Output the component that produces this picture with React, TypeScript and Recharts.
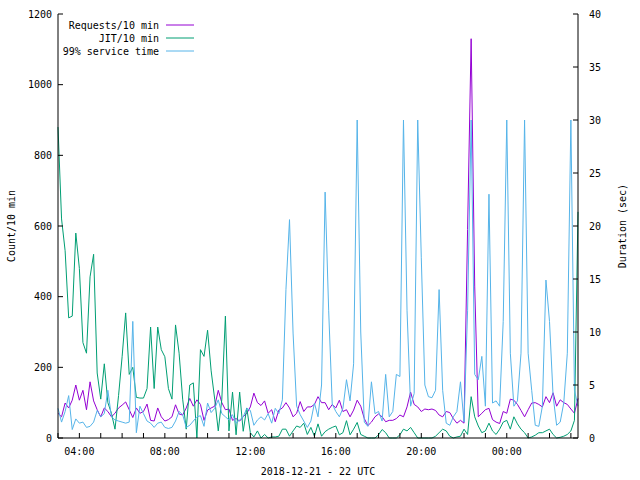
import React from "react";
import { LineChart, Line, XAxis, YAxis } from "recharts";

// samples every 10 min, starting 2018-12-21 03:00 UTC (hours since midnight)
const START_HOUR = 3;
const STEP_HOURS = 1 / 6;

const REQUESTS = [
  70, 60, 99, 85, 107, 150, 107, 135, 80, 159,
  105, 80, 60, 85, 75, 60, 70, 85, 93, 102,
  80, 58, 85, 70, 75, 96, 50, 48, 85, 60,
  48, 52, 60, 94, 68, 65, 85, 112, 90, 108,
  95, 50, 79, 85, 90, 135, 100, 80, 82, 50,
  55, 48, 60, 70, 88, 127, 100, 92, 105, 70,
  80, 46, 79, 85, 100, 85, 60, 70, 103, 75,
  88, 88, 95, 117, 100, 100, 80, 95, 85, 107,
  75, 80, 60, 79, 107, 90, 55, 35, 45, 60,
  68, 60, 46, 50, 50, 55, 65, 60, 88, 130,
  95, 88, 75, 82, 80, 82, 78, 65, 60, 75,
  72, 55, 42, 50, 42, 590, 1130, 430, 60, 70,
  80, 84, 52, 45, 41, 75, 70, 110, 107, 95,
  78, 60, 80, 99, 100, 95, 88, 117, 100, 128,
  90, 108, 100, 95, 82, 70, 112,
];

const JIT = [
  880, 620, 530, 340, 345, 580, 480, 270, 240, 456,
  520, 184, 110, 210, 100, 70, 25, 120, 230, 354,
  180, 200, 115, 113, 113, 140, 314, 140, 314, 250,
  230, 140, 110, 320, 240, 110, 25, 150, 156, 0,
  250, 231, 305, 190, 110, 20, 110, 345, 20, 130,
  9, 130, 19, 85, 15, 3, 20, 0, 10, 0,
  3, 3, 5, 25, 25, 5, 20, 34, 30, 42,
  10, 30, 5, 40, 5, 18, 25, 30, 34, 9,
  15, 49, 9, 25, 44, 10, 5, 0, 0, 0,
  9, 24, 15, 0, 0, 0, 9, 25, 20, 30,
  15, 0, 0, 0, 0, 0, 5, 15, 25, 20,
  5, 0, 3, 5, 25, 10, 117, 60, 34, 15,
  20, 42, 20, 10, 25, 45, 50, 25, 60, 40,
  25, 15, 0, 3, 8, 15, 15, 20, 25, 10,
  0, 2, 5, 10, 20, 50, 640,
];

// seconds, right axis
const SERVICE_99 = [
  2.8, 1.5, 2.5, 4.0, 0.8, 1.8, 1.4, 1.5, 1.0, 1.1,
  1.5, 2.6, 2.0, 2.3, 4.5, 2.0, 1.7, 1.6, 1.5, 1.4,
  1.5, 11, 0.5, 3.0, 2.3, 1.6, 1.4, 1.0, 1.4, 1.5,
  1.0, 0.9, 1.0, 1.6, 2.5, 2.2, 1.0, 1.2, 1.6, 2.0,
  2.1, 1.1, 3.3, 2.4, 2.8, 3.6, 2.3, 2.0, 1.7, 2.2,
  1.4, 1.7, 2.0, 2.8, 2.6, 1.2, 1.7, 2.0, 1.7, 2.3,
  1.4, 2.8, 2.3, 3.6, 14, 20.6, 9.9, 3.0, 2.2, 1.6,
  1.0, 1.6, 3.3, 2.0, 5.0, 23.2, 12, 3.2, 2.5, 2.0,
  2.8, 5.5, 3.5, 7, 30, 10, 1.5, 1.1, 5.3, 2.3,
  2.5, 1.6, 6, 2.0, 2.5, 6, 5.8, 30, 12, 3,
  4.2, 30, 17, 5, 3.9, 3.8, 4.5, 14, 4.5, 1.4,
  1.2, 2.0, 2.5, 5.3, 1.5, 12, 30, 6, 5.5, 7.7,
  3, 23, 3.3, 3.5, 3.0, 11, 30, 8, 3.0, 3.5,
  8, 30, 8, 4.5, 1.2, 1.1, 3.0, 14.9, 11, 4,
  1.2, 1.5, 3.3, 8, 30, 4.5, 3,
];

const HOUR_TICKS = [
  3, 4, 5, 6, 7, 8, 9, 10, 11, 12, 13, 14, 15,
  16, 17, 18, 19, 20, 21, 22, 23, 24, 25, 26, 27,
];
const COUNT_TICKS = [0, 200, 400, 600, 800, 1000, 1200];
const SECONDS_TICKS = [0, 5, 10, 15, 20, 25, 30, 35, 40];

const SERIES = [
  { key: "requests", name: "Requests/10 min", color: "#9400d3", axis: "left" },
  { key: "jit", name: "JIT/10 min", color: "#009e73", axis: "left" },
  { key: "service", name: "99% service time", color: "#56b4e9", axis: "right" },
];

const FONT = "'DejaVu Sans Mono', 'Liberation Mono', monospace";
const TICK_LEN = 5;

const data = REQUESTS.map((r, i) => ({
  t: START_HOUR + i * STEP_HOURS,
  requests: r,
  jit: JIT[i],
  service: SERVICE_99[i],
}));

const fmtHour = (h: number) => `${String(Math.round(h) % 24).padStart(2, "0")}:00`;

const BottomTick = (props: any) => {
  const { x, y, payload } = props;
  const showLabel = payload.value % 4 === 0;
  return (
    <g>
      <line x1={x} y1={y} x2={x} y2={y - TICK_LEN} stroke="#000" />
      {showLabel && (
        <text x={x} y={y + 17} textAnchor="middle" fontSize={10} fontFamily={FONT} fill="#000">
          {fmtHour(payload.value)}
        </text>
      )}
    </g>
  );
};

const TopTick = (props: any) => {
  const { x, y } = props;
  return <line x1={x} y1={y} x2={x} y2={y + TICK_LEN} stroke="#000" />;
};

const LeftTick = (props: any) => {
  const { x, y, payload } = props;
  return (
    <g>
      <line x1={x} y1={y} x2={x + TICK_LEN} y2={y} stroke="#000" />
      <text x={x - 6} y={y + 3.5} textAnchor="end" fontSize={10} fontFamily={FONT} fill="#000">
        {payload.value}
      </text>
    </g>
  );
};

const RightTick = (props: any) => {
  const { x, y, payload } = props;
  return (
    <g>
      <line x1={x} y1={y} x2={x - TICK_LEN} y2={y} stroke="#000" />
      <text x={x + 11} y={y + 3.5} textAnchor="start" fontSize={10} fontFamily={FONT} fill="#000">
        {payload.value}
      </text>
    </g>
  );
};

function KeyBox() {
  return (
    <g>
      {SERIES.map((s, i) => {
        const cy = 25 + i * 13;
        return (
          <g key={s.key}>
            <text x={159} y={cy + 3.5} textAnchor="end" fontSize={10} fontFamily={FONT} fill="#000">
              {s.name}
            </text>
            <line x1={166} y1={cy} x2={194} y2={cy} stroke={s.color} strokeWidth={1} />
          </g>
        );
      })}
    </g>
  );
}

export default function App() {
  return (
    <div style={{ position: "absolute", left: 0, top: 0, width: 640, height: 480, background: "#fff" }}>
      <LineChart width={640} height={480} data={data} margin={{ top: 14, right: 0, bottom: 0, left: 0 }}>
        <XAxis
          dataKey="t"
          type="number"
          domain={[START_HOUR, START_HOUR + (REQUESTS.length - 1) * STEP_HOURS]}
          ticks={HOUR_TICKS}
          interval={0}
          height={42}
          tickSize={0}
          tickMargin={0}
          tickLine={false}
          axisLine={{ stroke: "#000" }}
          tick={<BottomTick />}
        />
        <XAxis
          xAxisId="top"
          dataKey="t"
          type="number"
          orientation="top"
          domain={[START_HOUR, START_HOUR + (REQUESTS.length - 1) * STEP_HOURS]}
          ticks={HOUR_TICKS}
          interval={0}
          height={0}
          tickSize={0}
          tickMargin={0}
          tickLine={false}
          axisLine={{ stroke: "#000" }}
          tick={<TopTick />}
        />
        <YAxis
          yAxisId="left"
          domain={[0, 1200]}
          ticks={COUNT_TICKS}
          interval={0}
          width={58}
          tickSize={0}
          tickMargin={0}
          tickLine={false}
          axisLine={{ stroke: "#000" }}
          tick={<LeftTick />}
        />
        <YAxis
          yAxisId="right"
          orientation="right"
          domain={[0, 40]}
          ticks={SECONDS_TICKS}
          interval={0}
          width={62}
          tickSize={0}
          tickMargin={0}
          tickLine={false}
          axisLine={{ stroke: "#000" }}
          tick={<RightTick />}
        />
        {SERIES.map((s) => (
          <Line
            key={s.key}
            yAxisId={s.axis}
            dataKey={s.key}
            name={s.name}
            type="linear"
            stroke={s.color}
            strokeWidth={1}
            dot={false}
            activeDot={false}
            isAnimationActive={false}
          />
        ))}
        <KeyBox />
        <text x={318} y={474.5} textAnchor="middle" fontSize={10} fontFamily={FONT} fill="#000">
          2018-12-21 - 22 UTC
        </text>
        <text
          x={11}
          y={226}
          transform="rotate(-90 11 226)"
          textAnchor="middle"
          dominantBaseline="central"
          fontSize={10}
          fontFamily={FONT}
          fill="#000"
        >
          Count/10 min
        </text>
        <text
          x={622}
          y={226}
          transform="rotate(-90 622 226)"
          textAnchor="middle"
          dominantBaseline="central"
          fontSize={10}
          fontFamily={FONT}
          fill="#000"
        >
          Duration (sec)
        </text>
      </LineChart>
    </div>
  );
}
